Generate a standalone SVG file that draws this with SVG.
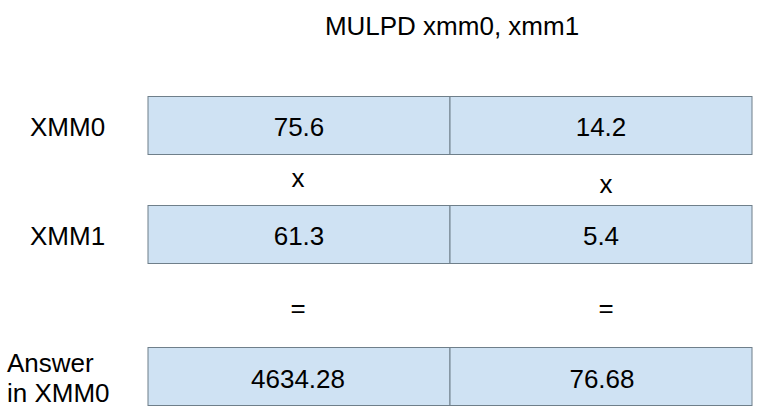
<svg xmlns="http://www.w3.org/2000/svg" width="759" height="414" viewBox="0 0 759 414">
<style>
text{font-family:"Liberation Sans",Arial,sans-serif;font-size:26px;fill:#000}
.c{text-anchor:middle}
.cell{fill:#cfe2f3;stroke:#6f7f8a;stroke-width:1}
</style>
<rect width="759" height="414" fill="#fff"/>
<text class="c" x="452" y="35">MULPD xmm0, xmm1</text>
<g id="xmm0">
<text x="30" y="136">XMM0</text>
<rect class="cell" x="148" y="96.5" width="302" height="58"/>
<rect class="cell" x="450" y="96.5" width="302" height="58"/>
<text class="c" x="299" y="136">75.6</text>
<text class="c" x="601" y="136">14.2</text>
</g>
<g id="ops">
<text class="c" x="298" y="187">x</text>
<text class="c" x="606" y="193">x</text>
<text class="c" x="298" y="317">=</text>
<text class="c" x="606" y="317">=</text>
</g>
<g id="xmm1">
<text x="30" y="245">XMM1</text>
<rect class="cell" x="148" y="205.5" width="302" height="58"/>
<rect class="cell" x="450" y="205.5" width="302" height="58"/>
<text class="c" x="299" y="245">61.3</text>
<text class="c" x="601" y="245">5.4</text>
</g>
<g id="answer">
<text x="7" y="372">Answer</text>
<text x="7" y="402">in XMM0</text>
<rect class="cell" x="148" y="347.5" width="302" height="58"/>
<rect class="cell" x="450" y="347.5" width="302" height="58"/>
<text class="c" x="298" y="388">4634.28</text>
<text class="c" x="602" y="388">76.68</text>
</g>
</svg>
